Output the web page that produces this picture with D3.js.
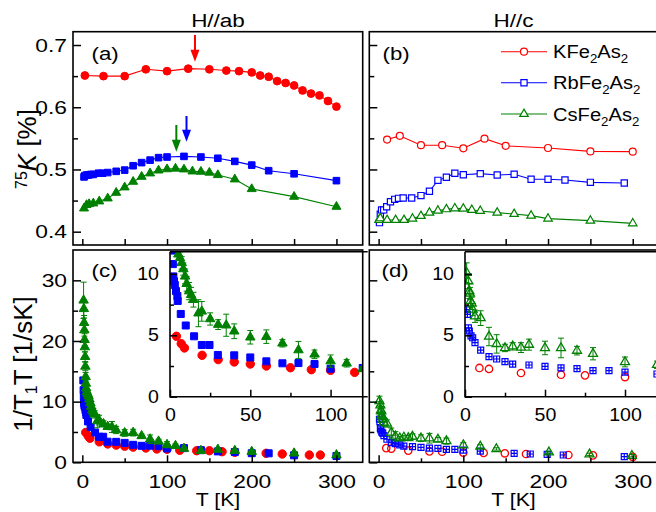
<!DOCTYPE html>
<html><head><meta charset="utf-8">
<script src="https://cdn.jsdelivr.net/npm/d3@7"></script>
<style>
body{margin:0;background:#fff}
svg{display:block;background:#fff}
</style></head><body>
<svg id="chart" width="656" height="512"></svg>
<script>
// ---------------- DATA ----------------
// Knight shift, H//ab (panel a)
const kabT  = [3,25,50,75,100,125,150,170,185,200,210,220,230,240,250,260,270,280,290,300];
const kabK  = [0.651,0.650,0.650,0.661,0.658,0.662,0.661,0.659,0.658,0.656,0.651,0.649,0.642,0.639,0.635,0.627,0.622,0.619,0.610,0.601];
const rbabT = [2,3,5,7,10,13,19,24,30,40,50,60,70,80,90,100,120,140,160,180,200,220,250,300];
const rbabK = [0.488,0.490,0.491,0.491,0.492,0.492,0.494,0.494,0.495,0.497,0.499,0.506,0.511,0.515,0.519,0.520,0.521,0.520,0.518,0.513,0.507,0.498,0.493,0.482];
const csabT = [2,5,8,13,20,30,40,50,60,70,80,90,100,110,120,130,140,150,160,180,200,250,300];
const csabK = [0.4375,0.443,0.4445,0.4456,0.4488,0.4536,0.4627,0.4713,0.4804,0.4884,0.4938,0.4985,0.5005,0.5015,0.5002,0.497,0.4965,0.495,0.4911,0.4842,0.4686,0.4563,0.4402];
// Knight shift, H//c (panel b)
const kcT  = [10,25,50,75,100,125,150,200,250,300];
const kcK  = [0.548,0.554,0.539,0.539,0.534,0.5495,0.538,0.5345,0.529,0.5286];
const rbcT = [1,2,3.5,6,9.5,14,19,23.5,29,39,50,60,70,80,90,100,120,140,160,180,200,220,250,290];
const rbcK = [0.4145,0.428,0.435,0.435,0.440,0.448,0.452,0.4536,0.4541,0.4541,0.458,0.465,0.4825,0.4874,0.4938,0.4916,0.4933,0.4911,0.4922,0.4842,0.4842,0.4831,0.4793,0.4783];
const cscT = [0.5,2,10,20,30,40,50,60,70,80,90,100,110,120,140,160,180,200,250,300];
const cscK = [0.4188,0.4215,0.4188,0.4188,0.4188,0.421,0.4252,0.4306,0.4338,0.436,0.4375,0.437,0.4349,0.4333,0.4306,0.4284,0.4258,0.421,0.4177,0.4134];
// 1/T1T, H//ab (panel c)
const kT1abT = [4,7,9,20,30,40,50,60,75,88,100,115,135,150,165,180,217,236,268,281];
const kT1abV = [4.92,4.32,3.97,3.37,3.02,2.83,2.66,2.5,2.36,2.2,2.15,1.98,1.91,1.91,1.75,1.64,1.48,1.37,1.2,1.2];
const rbT1abT = [1.2,1.5,1.8,2.1,2.5,3,3.75,4.6,4.8,6.7,9.8,15,19.8,24.6,29.8,40,50,60,70,80,90,100,120,140,160,180,200,220,250,300];
const rbT1abV = [13.5,11.9,10.8,9.8,9.4,9.1,8.6,8.2,7.8,6.74,5.8,4.92,4.21,4.21,3.4,3.37,3.2,2.88,2.72,2.74,2.66,2.28,2.34,2.0,1.8,1.7,1.5,1.48,1.15,1.04];
const csT1abT = [1.5,1.8,2.1,2.4,2.7,3.0,3.3,3.6,3.9,4.2,4.6,5.2,6.2,7.3,8.3,9.4,10.4,11.9,13.1,14.6,17.7,19.8,25,30,35,40,50,60,70,80,90,100,110,120,140,160,180,200,250,300];
const csT1abV = [26.7,25.3,23.0,21.8,20.2,19.0,17.4,15.8,14.1,13.0,12.2,11.6,11.3,10.9,10.4,9.8,9.2,8.6,8.3,7.9,6.8,6.95,6.33,5.87,5.82,5.33,4.84,4.89,4.35,3.8,3.45,2.9,2.72,2.26,1.91,2.1,1.91,1.75,1.48,1.2];
const csT1abE = [3.0,1.5,1.2,1.0,1.0,0.8,0.8,0.7,0.7,0.6,0.6,0.5,0.5,0.5,0.5,0.6,0.6,0.7,0.6,0.6,1.1,0.8,0.5,0.4,0.9,0.6,0.55,0.55,0.3,0.7,0.35,0.5,0.3,0.2,0.2,0.2,0.2,0.2,0.2,0.2];
// 1/T1T, H//c (panel d)
const kT1cT = [9,15,35,60,75,100,124,149,174,224,253,300];
const kT1cV = [2.34,2.26,1.93,1.79,1.74,1.6,1.55,1.48,1.37,1.2,1.15,0.9];
const rbT1cT = [1,1.5,2.1,2.7,3.75,4.8,6.25,9.8,15,19.8,25,29.8,40,50,60,70,80,90,100,120,160,179,199,218,290];
const rbT1cV = [7.1,6.7,5.6,5.35,4.95,4.8,4.4,3.8,3.26,3.07,2.86,2.66,2.58,2.47,2.34,2.28,2.12,2.12,2.0,1.85,1.48,1.37,1.31,1.2,0.93];
const csT1cT = [1,2.1,2.7,3.1,3.5,4.2,4.8,6.25,9.8,15,19.8,25,29.8,35,40,50,60,70,80,100,120,139,201,249,299];
const csT1cV = [10.1,9.4,8.6,8.4,7.8,7.6,7.1,6.55,6.4,4.9,4.3,3.97,4.1,4.0,4.24,3.97,3.97,3.75,3.5,2.83,2.6,2.2,1.64,1.31,1.09];
const csT1cE = [0.8,0.6,0.6,0.5,0.5,0.5,0.5,0.5,0.6,0.75,0.75,0.3,0.3,0.4,0.45,0.55,0.8,0.35,0.5,0.4,0.3,0.2,0.2,0.2,0.2];
// arrows in panel a (T position, tail K, tip K)
const arrowT    = [133, 123, 111];
const arrowTail = [0.716, 0.586, 0.5714];
const arrowTip  = [0.673, 0.5445, 0.5285];
const arrowCol  = ["#ff0000", "#0000ff", "#008000"];
// ticks
const kMajor = [0.4,0.5,0.6,0.7], kMinor = [0.45,0.55,0.65];
const vMajor = [0,10,20,30], vMinor = [5,15,25];
const tMajor = [0,100,200,300], tMinor = [50,150,250];
const iyMajor = [0,5,10], iyMinor = [2.5,7.5];
const ixMajor = [0,50,100], ixMinor = [25,75];
const legendNames = [["KFe","2","As","2"],["RbFe","2","As","2"],["CsFe","2","As","2"]];

// ---------------- SETUP ----------------
const RED="#ff0000", BLUE="#0000ff", GREEN="#008000";
const FONT='"Liberation Sans", Arial, Helvetica, sans-serif';
const svg=d3.select("#chart");
const defs=svg.append("defs");
let clipN=0;
function clip(x0,y0,x1,y1){const id="cl"+(clipN++);defs.append("clipPath").attr("id",id).append("rect").attr("x",x0).attr("y",y0).attr("width",x1-x0).attr("height",y1-y0);return `url(#${id})`;}
function stretch(sel,sx){sel.each(function(){const t=d3.select(this);const x=+(t.attr("x")||0);t.attr("transform",`translate(${x*(1-sx)},0) scale(${sx},1)`);});}

const PA={x0:73,x1:362.7,y0:31.7,y1:245}, PB={x0:369.3,x1:659,y0:31.7,y1:245};
const PC={x0:73,x1:362.7,y0:250,y1:462.3}, PD={x0:369.3,x1:659,y0:250,y1:462.3};
const IC={x0:170,x1:362.7,y0:251.7,y1:396.7}, ID={x0:465,x1:657,y0:251.7,y1:396.7};

const xL=d3.scaleLinear().domain([-11,331]).range([PA.x0,PA.x1]);
const xR=d3.scaleLinear().domain([-11,331]).range([PB.x0,PB.x1]);
const yK=d3.scaleLinear().domain([0.3786,0.7214]).range([PA.y1,PA.y0]);
const yV=d3.scaleLinear().domain([0,35]).range([PC.y1,PC.y0]);
const xIC=d3.scaleLinear().domain([0,120]).range([IC.x0,IC.x1]);
const xID=d3.scaleLinear().domain([0,120]).range([ID.x0,ID.x1]);
const yI=d3.scaleLinear().domain([0,11.81]).range([IC.y1,IC.y0]);

// marker paths
const circ=r=>`M${-r},0a${r},${r} 0 1,0 ${2*r},0a${r},${r} 0 1,0 ${-2*r},0Z`;
const sq=s=>{const h=s/2;return `M${-h},${-h}H${h}V${h}H${-h}Z`;};
const sqx=s=>{const h=s/2;return sq(s)+`M${-h},0H${h}M0,${-h}V${h}`;};
const tri=w=>{const h=w*Math.sqrt(3)/2;return `M0,${-2*h/3}L${w/2},${h/3}L${-w/2},${h/3}Z`;};

function series(g,xs,ys,T,V,o){
  const pts=T.map((t,i)=>[xs(t),ys(V[i])]);
  if(o.line){g.append("path").attr("d",d3.line()(pts)).attr("fill","none").attr("stroke",o.color).attr("stroke-width",1.1);}
  if(o.err){
    const eg=g.append("g").attr("stroke",o.color).attr("stroke-width",1).attr("fill","none");
    T.forEach((t,i)=>{const x=xs(t),a=ys(V[i]-o.err[i]),b=ys(V[i]+o.err[i]);
      eg.append("path").attr("d",`M${x},${a}V${b}M${x-3},${a}H${x+3}M${x-3},${b}H${x+3}`);});
  }
  g.append("g").selectAll("path").data(pts).join("path")
    .attr("transform",d=>`translate(${d[0]},${d[1]})`).attr("d",o.marker)
    .attr("fill",o.fill).attr("stroke",o.color).attr("stroke-width",o.sw||1);
}

function axis(gen,tx,ty,vals,size,labels,pad,fs,sx){
  const g=svg.append("g").attr("transform",`translate(${tx},${ty})`)
    .call(gen.tickValues(vals).tickSize(size).tickPadding(pad).tickFormat(labels?(labels===true?d3.format("d"):labels):""));
  g.select(".domain").remove();
  g.selectAll("line").attr("stroke","#000").attr("stroke-width",1.5);
  g.selectAll("text").attr("font-size",fs).attr("font-family",FONT).attr("fill","#000");
  if(labels&&sx) stretch(g.selectAll("text"),sx);
}

function text(x,y,parts,o){
  const g=svg.append("g").attr("transform",`translate(${x},${y}) ${o.rot?"rotate(-90)":""} scale(${o.sx||1},1)`);
  const t=g.append("text").attr("font-family",FONT).attr("font-size",o.fs).attr("text-anchor",o.anchor||"start").attr("fill","#000");
  parts.forEach(p=>{
    if(typeof p==="string"){t.append("tspan").text(p);}
    else{const s=t.append("tspan").text(p.t);if(p.fs)s.attr("font-size",p.fs);if(p.dy)s.attr("dy",p.dy);if(p.it)s.attr("font-style","italic");}
  });
  return t;
}

// ---------------- PANEL A ----------------
{
  const g=svg.append("g").attr("clip-path",clip(PA.x0,PA.y0,PA.x1,PA.y1));
  series(g,xL,yK,kabT,kabK,{color:RED,marker:circ(3.9),fill:RED,line:true});
  series(g,xL,yK,rbabT,rbabK,{color:BLUE,marker:sq(6.6),fill:BLUE,line:true});
  series(g,xL,yK,csabT,csabK,{color:GREEN,marker:tri(9),fill:GREEN,line:true});
  arrowT.forEach((t,i)=>{
    const x=xL(t),y0=yK(arrowTail[i]),y1=yK(arrowTip[i]);
    g.append("line").attr("x1",x).attr("x2",x).attr("y1",y0).attr("y2",y1-8).attr("stroke",arrowCol[i]).attr("stroke-width",2);
    g.append("path").attr("d",`M${x},${y1}L${x-4.5},${y1-12}L${x+4.5},${y1-12}Z`).attr("fill",arrowCol[i]);
  });
}
// ---------------- PANEL B ----------------
{
  const g=svg.append("g").attr("clip-path",clip(PB.x0,PB.y0,PB.x1,PB.y1));
  series(g,xR,yK,kcT,kcK,{color:RED,marker:circ(3.5),fill:"#fff",line:true,sw:1.2});
  series(g,xR,yK,rbcT,rbcK,{color:BLUE,marker:sq(6.2),fill:"#fff",line:true,sw:1.2});
  series(g,xR,yK,cscT,cscK,{color:GREEN,marker:tri(8.5),fill:"#fff",line:true,sw:1.2});
  // legend
  const ly=[51.7,82.7,114], lc=[RED,BLUE,GREEN], lm=[circ(3.5),sq(6.2),tri(8.5)];
  ly.forEach((y,i)=>{
    svg.append("line").attr("x1",501).attr("x2",547).attr("y1",y).attr("y2",y).attr("stroke",lc[i]).attr("stroke-width",1.1);
    svg.append("path").attr("transform",`translate(524,${y})`).attr("d",lm[i]).attr("fill","#fff").attr("stroke",lc[i]).attr("stroke-width",1.2);
    const n=legendNames[i];
    text(553,y+6.5,[n[0],{t:n[1],fs:12.5,dy:5},{t:n[2],dy:-5},{t:n[3],fs:12.5,dy:5}],{fs:19,sx:1.06});
  });
}
// ---------------- PANEL C ----------------
{
  const g=svg.append("g").attr("clip-path",clip(PC.x0,PC.y0,PC.x1,PC.y1));
  series(g,xL,yV,kT1abT,kT1abV,{color:RED,marker:circ(4.2),fill:RED});
  series(g,xL,yV,rbT1abT,rbT1abV,{color:BLUE,marker:sq(7),fill:BLUE});
  series(g,xL,yV,csT1abT,csT1abV,{color:GREEN,marker:tri(9.5),fill:GREEN,err:csT1abE});
  svg.append("rect").attr("x",IC.x0).attr("y",IC.y0).attr("width",IC.x1-IC.x0).attr("height",IC.y1-IC.y0).attr("fill","#fff");
  const gi=svg.append("g").attr("clip-path",clip(IC.x0,IC.y0,IC.x1,IC.y1));
  series(gi,xIC,yI,kT1abT,kT1abV,{color:RED,marker:circ(4.2),fill:RED});
  series(gi,xIC,yI,rbT1abT,rbT1abV,{color:BLUE,marker:sq(7),fill:BLUE});
  series(gi,xIC,yI,csT1abT,csT1abV,{color:GREEN,marker:tri(9.5),fill:GREEN,err:csT1abE});
}
// ---------------- PANEL D ----------------
{
  const g=svg.append("g").attr("clip-path",clip(PD.x0,PD.y0,PD.x1,PD.y1));
  series(g,xR,yV,kT1cT,kT1cV,{color:RED,marker:circ(3.7),fill:"none",sw:1.3});
  series(g,xR,yV,rbT1cT,rbT1cV,{color:BLUE,marker:sqx(6),fill:"none",sw:1.2});
  series(g,xR,yV,csT1cT,csT1cV,{color:GREEN,marker:tri(9),fill:"none",sw:1.3,err:csT1cE});
  svg.append("rect").attr("x",ID.x0).attr("y",ID.y0).attr("width",ID.x1-ID.x0+5).attr("height",ID.y1-ID.y0).attr("fill","#fff");
  const gi=svg.append("g").attr("clip-path",clip(ID.x0,ID.y0,ID.x1+5,ID.y1));
  series(gi,xID,yI,kT1cT,kT1cV,{color:RED,marker:circ(3.7),fill:"none",sw:1.3});
  series(gi,xID,yI,rbT1cT,rbT1cV,{color:BLUE,marker:sqx(6),fill:"none",sw:1.2});
  series(gi,xID,yI,csT1cT,csT1cV,{color:GREEN,marker:tri(9),fill:"none",sw:1.3,err:csT1cE});
}

// ---------------- AXES ----------------
const TS=19, SX=1.2;
// panel a
axis(d3.axisLeft(yK),PA.x0,0,kMajor,-8,d3.format(".1f"),6,TS,SX);
axis(d3.axisLeft(yK),PA.x0,0,kMinor,-5,null,6,TS);
axis(d3.axisBottom(xL),0,PA.y1,tMajor.concat(tMinor),-6,null,6,TS);
// panel b
axis(d3.axisLeft(yK),PB.x0,0,kMajor,-8,null,6,TS);
axis(d3.axisLeft(yK),PB.x0,0,kMinor,-5,null,6,TS);
axis(d3.axisBottom(xR),0,PB.y1,tMajor.concat(tMinor),-6,null,6,TS);
// panel c
axis(d3.axisLeft(yV),PC.x0,0,vMajor,-8,true,6,TS,SX);
axis(d3.axisLeft(yV),PC.x0,0,vMinor,-5,null,6,TS);
axis(d3.axisBottom(xL),0,PC.y1,tMajor,-7,true,12,TS,SX);
axis(d3.axisBottom(xL),0,PC.y1,tMinor,-4,null,6,TS);
// panel d
axis(d3.axisLeft(yV),PD.x0,0,vMajor,-8,null,6,TS);
axis(d3.axisLeft(yV),PD.x0,0,vMinor,-5,null,6,TS);
axis(d3.axisBottom(xR),0,PD.y1,tMajor,-7,true,12,TS,SX);
axis(d3.axisBottom(xR),0,PD.y1,tMinor,-4,null,6,TS);
// insets
const IS=17.5, ISX=1.12;
[[xIC,IC],[xID,ID]].forEach(([xs,I])=>{
  svg.append("path").attr("d",`M${I.x0},${I.y0}V${I.y1}H${I.x1+5}M${I.x0},${I.y0}H${I.x1+5}`).attr("fill","none").attr("stroke","#000").attr("stroke-width",1.6);
  axis(d3.axisLeft(yI),I.x0,0,iyMajor,-7,true,11,IS,ISX);
  axis(d3.axisLeft(yI),I.x0,0,iyMinor,-4,null,6,IS);
  axis(d3.axisBottom(xs),0,I.y1,ixMajor,-7,true,12,IS,ISX);
  axis(d3.axisBottom(xs),0,I.y1,ixMinor,-4,null,6,IS);
});

// ---------------- FRAMES ----------------
[PA,PB,PC,PD].forEach(P=>{
  svg.append("rect").attr("x",P.x0).attr("y",P.y0).attr("width",P.x1-P.x0).attr("height",P.y1-P.y0)
    .attr("fill","none").attr("stroke","#000").attr("stroke-width",1.6);
});

// ---------------- TEXT ----------------
text(218,26.5,["H//ab"],{fs:18,anchor:"middle",sx:1.25});
text(513.5,26.5,["H//c"],{fs:18,anchor:"middle",sx:1.25});
text(91.5,60,["(a)"],{fs:18.5,sx:1.2});
text(382.5,60,["(b)"],{fs:18.5,sx:1.2});
text(91.5,277,["(c)"],{fs:18.5,sx:1.2});
text(381.5,277,["(d)"],{fs:18.5,sx:1.2});
text(218,506,["T [K]"],{fs:19,anchor:"middle",sx:1.12});
text(513.5,506,["T [K]"],{fs:19,anchor:"middle",sx:1.12});
text(36,149,[{t:"75",fs:16,dy:-9},{t:"K",it:true,dy:9}," [%]"],{fs:26,anchor:"middle",rot:true});
text(32,364,["1/T",{t:"1",fs:16,dy:5},{t:"T",dy:-5}," [1/sK]"],{fs:26,anchor:"middle",rot:true});
</script>
</body></html>
